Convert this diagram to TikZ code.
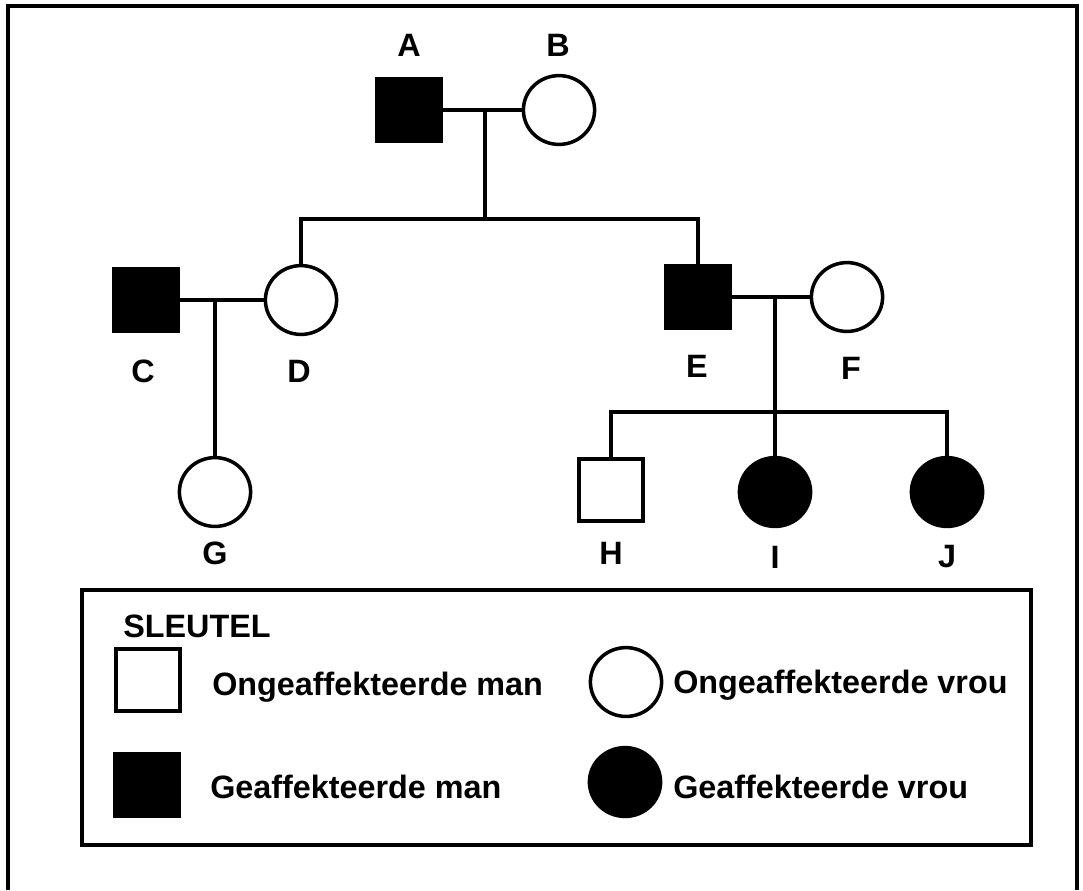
\documentclass[tikz,border=0pt]{standalone}
\usepackage{fontspec}
\setmainfont{Liberation Sans}
\usetikzlibrary{shapes.geometric}
\tikzset{
  male/.style={rectangle,draw,line width=2.5pt,minimum width=1.59cm,minimum height=1.55cm,inner sep=0pt},
  female/.style={ellipse,draw,line width=2.5pt,minimum width=1.78cm,minimum height=1.72cm,inner sep=0pt},
  aff/.style={fill=black},
  lbl/.style={font=\fontsize{23}{27}\selectfont\bfseries,inner sep=0pt},
  tie/.style={line width=2.5pt}
}
\begin{document}
\begin{tikzpicture}[x=0.025cm,y=-0.025cm]
\useasboundingbox (0,0) rectangle (1083,890);
\draw[line width=3.5pt] (8,890) -- (8,6) -- (1077,6) -- (1077,890);
% generation I
\node[male,aff] (A) at (409,110) {};
\node[female] (B) at (559,110) {};
\node[lbl] (lA) at (409,45) {A};
\node[lbl] (lB) at (558,45) {B};
\coordinate (mAB) at (485,110);
\coordinate (sAB) at (485,219);
\draw[tie] (A) -- (B);
\draw[tie] (mAB) -- (sAB);
% generation II
\node[male,aff] (C) at (146,300) {};
\node[female] (D) at (301,300) {};
\node[male,aff] (E) at (698,297) {};
\node[female] (F) at (847,297) {};
\node[lbl] (lC) at (143,371) {C};
\node[lbl] (lD) at (299,371) {D};
\node[lbl] (lE) at (697,366) {E};
\node[lbl] (lF) at (851,368) {F};
\draw[tie] (D.north) |- (sAB) -| (E.north);
\draw[tie] (C) -- (D);
\draw[tie] (E) -- (F);
\coordinate (mCD) at (215,300);
\coordinate (mEF) at (775,297);
\coordinate (sEF) at (775,412);
% generation III
\node[female] (G) at (215,492) {};
\node[male] (H) at (611,490) {};
\node[female,aff] (I) at (775,492) {};
\node[female,aff] (J) at (947,492) {};
\node[lbl] (lG) at (215,553) {G};
\node[lbl] (lH) at (611,553) {H};
\node[lbl] (lI) at (775,557) {I};
\node[lbl] (lJ) at (947,557) {J};
\draw[tie] (mCD) -- (G);
\draw[tie] (mEF) -- (I);
\draw[tie] (H.north) |- (sEF) -| (J.north);
% key
\draw[line width=2.8pt] (82,590) rectangle (1031,845);
\node[lbl,anchor=base west] (key) at (123,637) {SLEUTEL};
\node[male] (k1) at (148,680) {};
\node[female] (k2) at (626,682) {};
\node[male,aff] (k3) at (147,785) {};
\node[female,aff] (k4) at (625,782) {};
\node[lbl,anchor=base west] (t1) at (212,695) {Ongeaffekteerde man};
\node[lbl,anchor=base west] (t2) at (673,693) {Ongeaffekteerde vrou};
\node[lbl,anchor=base west] (t3) at (210,798) {Geaffekteerde man};
\node[lbl,anchor=base west] (t4) at (673,798) {Geaffekteerde vrou};
\end{tikzpicture}
\end{document}
